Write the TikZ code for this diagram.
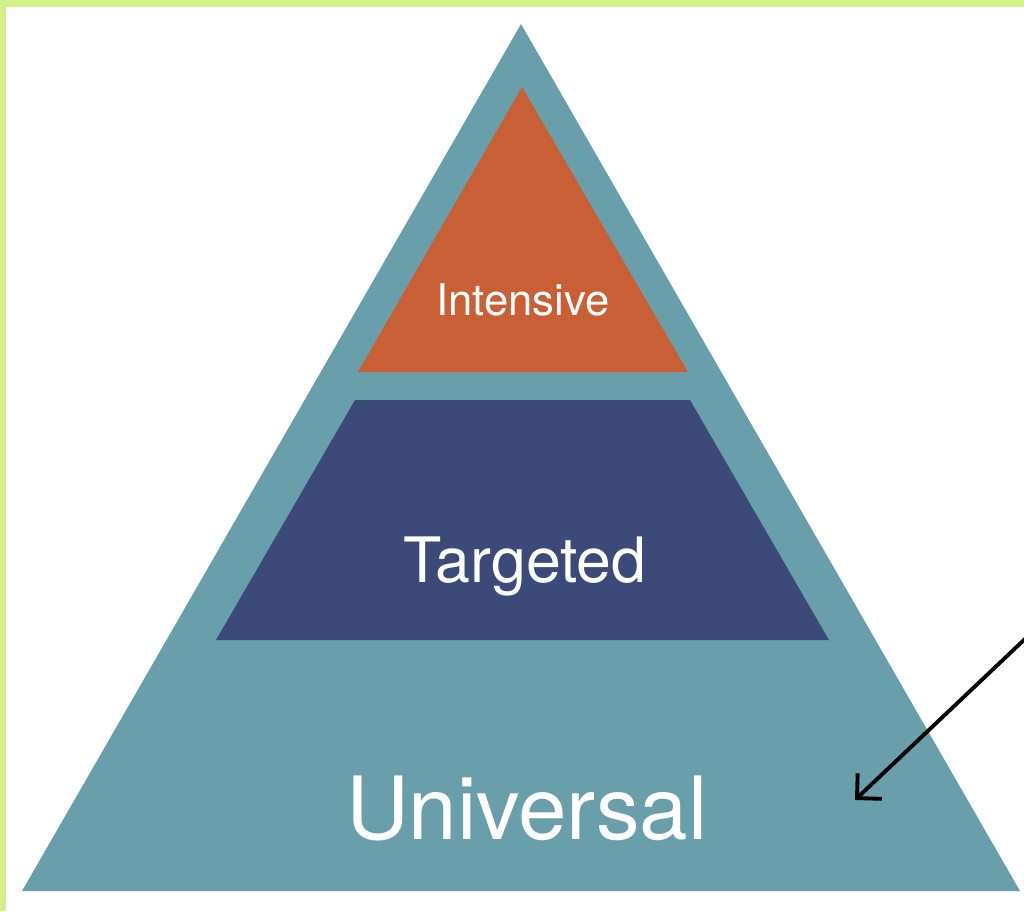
\documentclass[tikz,border=0pt]{standalone}
\usepackage{fontspec}
\setmainfont{TeX Gyre Heros}
\usetikzlibrary{arrows.meta}

\definecolor{teal}{HTML}{699FAA}
\definecolor{rust}{HTML}{C95F35}
\definecolor{navy}{HTML}{3C4A7A}
\definecolor{lime}{HTML}{D4F08A}

\begin{document}
\begin{tikzpicture}[
            x=0.01cm, y=-0.01cm,
            every node/.style={text=white, inner sep=0pt},
            % level/.style = {font=\fontsize{12}{14}\selectfont},
            ]
            \useasboundingbox (0,0) rectangle (1024,911);
            \fill[white] (0,0) rectangle (1024,911);
            \fill[lime] (0,0) rectangle (1024,7);
            \fill[lime] (0,0) rectangle (6,911);
            % pyramid
            \fill[teal] (521,24) -- (1020,891) -- (22,891) -- cycle;
            \fill[rust] (522,87) -- (688,372) -- (358,372) -- cycle;
            \fill[navy] (355,400) -- (690,400) -- (829,640) -- (216,640) -- cycle;
            \node (intensive) at (523,300) {\fontsize{12.4}{14}\selectfont Intensive};
            \node (targeted) at (525,566) {\fontsize{17.8}{20}\selectfont Targeted};
            \node (universal) at (527,808) {\fontsize{24.8}{28}\selectfont Universal};
            % pointer
            \coordinate (from) at (1026,638);
            \coordinate (to) at (855,800);
            \draw[line width=1.1pt, line cap=round, -{Straight Barb[length=5pt,width=10pt]}] (from) -- (to);
        \end{tikzpicture}
\end{document}
